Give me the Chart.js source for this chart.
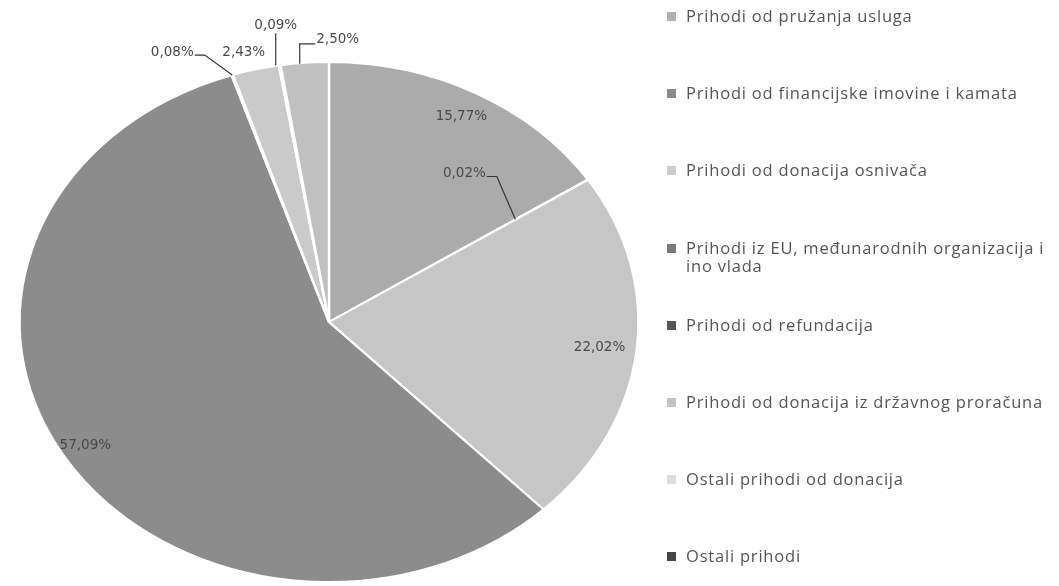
<!DOCTYPE html>
<html>
<head>
<meta charset="utf-8">
<script src="https://cdn.jsdelivr.net/npm/chart.js@4/dist/chart.umd.min.js"></script>
<style>
  body { margin: 0; background: #fff; }
  #wrap { position: relative; width: 1059px; height: 586px; }
  #legend {
    position: absolute; left: 665px; top: 7px; width: 394px;
    font-family: 'Open Sans', sans-serif; font-size: 16.5px; color: #555;
    letter-spacing: 0.8px;
  }
  .item { height: 77.2px; display: flex; align-items: flex-start; }
  .box { width: 9px; height: 9px; margin: 5px 10px 0 2px; flex: none; }
  .txt { white-space: pre; line-height: 18px; }
</style>
</head>
<body>
<div id="wrap">
  <canvas id="myChart" width="1059" height="586"></canvas>
  <div id="legend"></div>
</div>
<script>
'use strict';

// Categories
const labels = [
  'Prihodi od pružanja usluga',
  'Prihodi od financijske imovine i kamata',
  'Prihodi od donacija osnivača',
  'Prihodi iz EU, međunarodnih organizacija i\nino vlada',
  'Prihodi od refundacija',
  'Prihodi od donacija iz državnog proračuna',
  'Ostali prihodi od donacija',
  'Ostali prihodi'
];

// Shares in percent
const shares = [15.77, 0.02, 22.02, 57.09, 0.08, 2.43, 0.09, 2.50];

// Slice and legend colours
const sliceColors = ['#ababab', '#8e8e8e', '#c6c6c6', '#8c8c8c', '#6e6e6e', '#cacaca', '#ececec', '#c0c0c0'];
const legendColors = ['#b0b0b0', '#8a8a8a', '#cccccc', '#7a7a7a', '#555555', '#c4c4c4', '#dddddd', '#444444'];

// how each percentage label sits: inside at a radius fraction, or outside with a leader
const labelPlace = [
  { r: 0.9 },
  { r: 0.72, dx: -51, dy: -46, leader: 'right' },
  { r: 0.88 },
  { r: 0.92 },
  { r: 1, dx: -60, dy: -23, leader: 'right' },
  { r: 1, dx: -12, dy: -17 },
  { r: 1, dx: -4, dy: -40, leader: 'below' },
  { r: 1, dx: 33, dy: -23, leader: 'left' }
];

const stretchX = 1.19;

// legend
const legendEl = document.getElementById('legend');
for (let i = 0; i < labels.length; i++) {
  const item = document.createElement('div');
  item.className = 'item';
  const box = document.createElement('span');
  box.className = 'box';
  box.style.background = legendColors[i];
  const txt = document.createElement('span');
  txt.className = 'txt';
  txt.textContent = labels[i];
  item.appendChild(box);
  item.appendChild(txt);
  legendEl.appendChild(item);
}

// stretch the pie into the ellipse of the scan
const stretchPlugin = {
  id: 'stretch',
  beforeDatasetsDraw(chart) {
    const arc = chart.getDatasetMeta(0).data[0];
    const ctx = chart.ctx;
    ctx.save();
    ctx.translate(arc.x, arc.y);
    ctx.scale(stretchX, 1);
    ctx.translate(-arc.x, -arc.y);
  },
  afterDatasetsDraw(chart) {
    chart.ctx.restore();
  }
};

function pointAt(arc, angle, r) {
  return {
    x: arc.x + Math.cos(angle) * r * arc.outerRadius * stretchX,
    y: arc.y + Math.sin(angle) * r * arc.outerRadius
  };
}

// percentage labels with leader lines
const labelPlugin = {
  id: 'pctLabels',
  afterDraw(chart) {
    const ctx = chart.ctx;
    const arcs = chart.getDatasetMeta(0).data;
    ctx.save();
    ctx.font = '13.5px "DejaVu Sans", sans-serif';
    ctx.fillStyle = '#4a4a4a';
    ctx.strokeStyle = '#333';
    ctx.lineWidth = 1.2;
    ctx.textAlign = 'center';
    ctx.textBaseline = 'middle';
    for (let i = 0; i < arcs.length; i++) {
      const arc = arcs[i];
      const p = labelPlace[i];
      const mid = (arc.startAngle + arc.endAngle) / 2;
      const a = pointAt(arc, mid, p.r);
      const txt = shares[i].toFixed(2).replace('.', ',') + '%';
      const lx = a.x + (p.dx || 0);
      const ly = a.y + (p.dy || 0);
      const w = ctx.measureText(txt).width;
      if (p.leader === 'right') {
        ctx.beginPath();
        ctx.moveTo(lx + w / 2 + 1, ly + 3);
        ctx.lineTo(lx + w / 2 + 11, ly + 3);
        ctx.lineTo(a.x, a.y);
        ctx.stroke();
      } else if (p.leader === 'below') {
        ctx.beginPath();
        ctx.moveTo(lx, ly + 8);
        ctx.lineTo(lx, a.y);
        ctx.stroke();
      } else if (p.leader === 'left') {
        ctx.beginPath();
        ctx.moveTo(lx - w / 2 - 1, ly + 4);
        ctx.lineTo(a.x - 5, ly + 4);
        ctx.lineTo(a.x - 5, a.y + 1);
        ctx.stroke();
      }
      ctx.fillText(txt, lx, ly);
    }
    ctx.restore();
  }
};

const ctx = document.getElementById('myChart').getContext('2d');
const chart = new Chart(ctx, {
  type: 'pie',
  data: {
    labels: labels,
    datasets: [{
      data: shares,
      backgroundColor: sliceColors,
      borderColor: '#ffffff',
      borderWidth: 2
    }]
  },
  options: {
    responsive: false,
    animation: false,
    layout: { padding: { left: 68, right: 469, top: 61, bottom: 3 } },
    plugins: {
      legend: { display: false },
      tooltip: { enabled: false }
    }
  },
  plugins: [stretchPlugin, labelPlugin]
});
</script>
</body>
</html>
